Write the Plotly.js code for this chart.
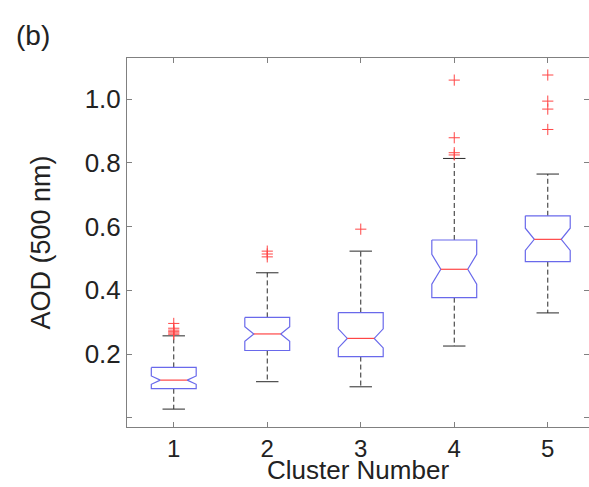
<!DOCTYPE html>
<html>
<head>
<meta charset="utf-8">
<script src="https://cdn.plot.ly/plotly-3.0.1.min.js"></script>
<style>
html,body{margin:0;padding:0;background:#fff;overflow:hidden;width:589px;height:487px;}
#chart{width:589px;height:487px;}
</style>
</head>
<body>
<div id="chart"></div>
<script>
// ---- data ----
var clusters      = [1, 2, 3, 4, 5];
var lowerWhisker  = [0.027, 0.113, 0.097, 0.225, 0.329];
var q1            = [0.091, 0.211, 0.192, 0.377, 0.490];
var medians       = [0.118, 0.263, 0.249, 0.466, 0.560];
var q3            = [0.158, 0.315, 0.330, 0.558, 0.634];
var upperWhisker  = [0.257, 0.455, 0.523, 0.814, 0.765];
var notchHalf     = [0.013, 0.023, 0.030, 0.047, 0.035];
var outlierX      = [1, 1, 1, 1, 1, 1, 2, 2, 2, 3, 4, 4, 4, 4, 5, 5, 5, 5];
var outlierY      = [0.296, 0.281, 0.275, 0.270, 0.266, 0.262, 0.523, 0.514, 0.505, 0.592, 1.060, 0.879, 0.832, 0.825, 1.076, 0.994, 0.969, 0.905];
var yTickVals     = [0, 0.2, 0.4, 0.6, 0.8, 1.0];
var yTickText     = ['', '0.2', '0.4', '0.6', '0.8', '1.0'];

// ---- geometry styles ----
var halfW = 0.24, innerFrac = 0.6, capHalf = 0.12;
var blue = 'rgb(105,105,235)', red = 'rgb(255,70,70)', dark = 'rgb(40,40,40)';

var boxX = [], boxY = [], medX = [], medY = [], whX = [], whY = [], capX = [], capY = [];
clusters.forEach(function (c, i) {
  var m = medians[i], n = notchHalf[i], wi = halfW * innerFrac;
  boxX.push(c - halfW, c + halfW, c + halfW, c + wi, c + halfW, c + halfW, c - halfW, c - halfW, c - wi, c - halfW, c - halfW, null);
  boxY.push(q3[i], q3[i], m + n, m, m - n, q1[i], q1[i], m - n, m, m + n, q3[i], null);
  medX.push(c - wi, c + wi, null); medY.push(m, m, null);
  whX.push(c, c, null, c, c, null);
  whY.push(q3[i], upperWhisker[i], null, q1[i], lowerWhisker[i], null);
  capX.push(c - capHalf, c + capHalf, null, c - capHalf, c + capHalf, null);
  capY.push(upperWhisker[i], upperWhisker[i], null, lowerWhisker[i], lowerWhisker[i], null);
});

var traces = [
  {x: whX, y: whY, mode: 'lines', line: {color: dark, width: 1, dash: '5px,3px'}, hoverinfo: 'skip'},
  {x: capX, y: capY, mode: 'lines', line: {color: dark, width: 1}, hoverinfo: 'skip'},
  {x: boxX, y: boxY, mode: 'lines', line: {color: blue, width: 1.2}, hoverinfo: 'skip'},
  {x: medX, y: medY, mode: 'lines', line: {color: red, width: 1.2}, hoverinfo: 'skip'},
  {x: outlierX, y: outlierY, mode: 'markers', marker: {symbol: 'cross-thin-open', size: 8, color: red, line: {color: red, width: 1}}, hoverinfo: 'skip'}
];

var fam = 'Liberation Sans, Arial, sans-serif';
var font = {family: fam, size: 26, color: '#222'};
var xTickFont = {family: fam, size: 24, color: '#222'};
var titleFont = {family: fam, size: 26, color: '#222'};
var axisCommon = {
  showline: true, mirror: 'ticks', linecolor: '#808080', linewidth: 1,
  ticks: 'inside', ticklen: 5, tickcolor: '#808080', tickwidth: 1,
  showgrid: false, zeroline: false, tickfont: font
};

var layout = {
  width: 589, height: 487,
  margin: {l: 127, r: 0, t: 58, b: 60},
  paper_bgcolor: '#fff', plot_bgcolor: '#fff',
  showlegend: false,
  font: font,
  xaxis: Object.assign({}, axisCommon, {
    range: [0.5, 5.441], tickvals: clusters, ticktext: clusters.map(String),
    tickfont: xTickFont
  }),
  yaxis: Object.assign({}, axisCommon, {
    range: [-0.0292, 1.1294], tickvals: yTickVals, ticktext: yTickText,
    title: {text: 'AOD (500 nm)', font: {family: fam, size: 27, color: '#222'}, standoff: 26}
  }),
  annotations: [
    {text: 'Cluster Number', xref: 'paper', yref: 'paper', x: 0.5, y: -0.163, xanchor: 'center', yanchor: 'bottom', showarrow: false, font: titleFont},
    {text: '(b)', xref: 'paper', yref: 'paper', x: -0.245, y: 1.06, xanchor: 'left', yanchor: 'middle', showarrow: false,
     font: {family: fam, size: 28, color: '#222'}},
    {text: 'Cluster', xref: 'paper', yref: 'paper', x: 0.898, y: 1.135, xanchor: 'left', yanchor: 'bottom', showarrow: false, font: titleFont}
  ]
};

Plotly.newPlot('chart', traces, layout, {staticPlot: true, displayModeBar: false});
</script>
</body>
</html>
